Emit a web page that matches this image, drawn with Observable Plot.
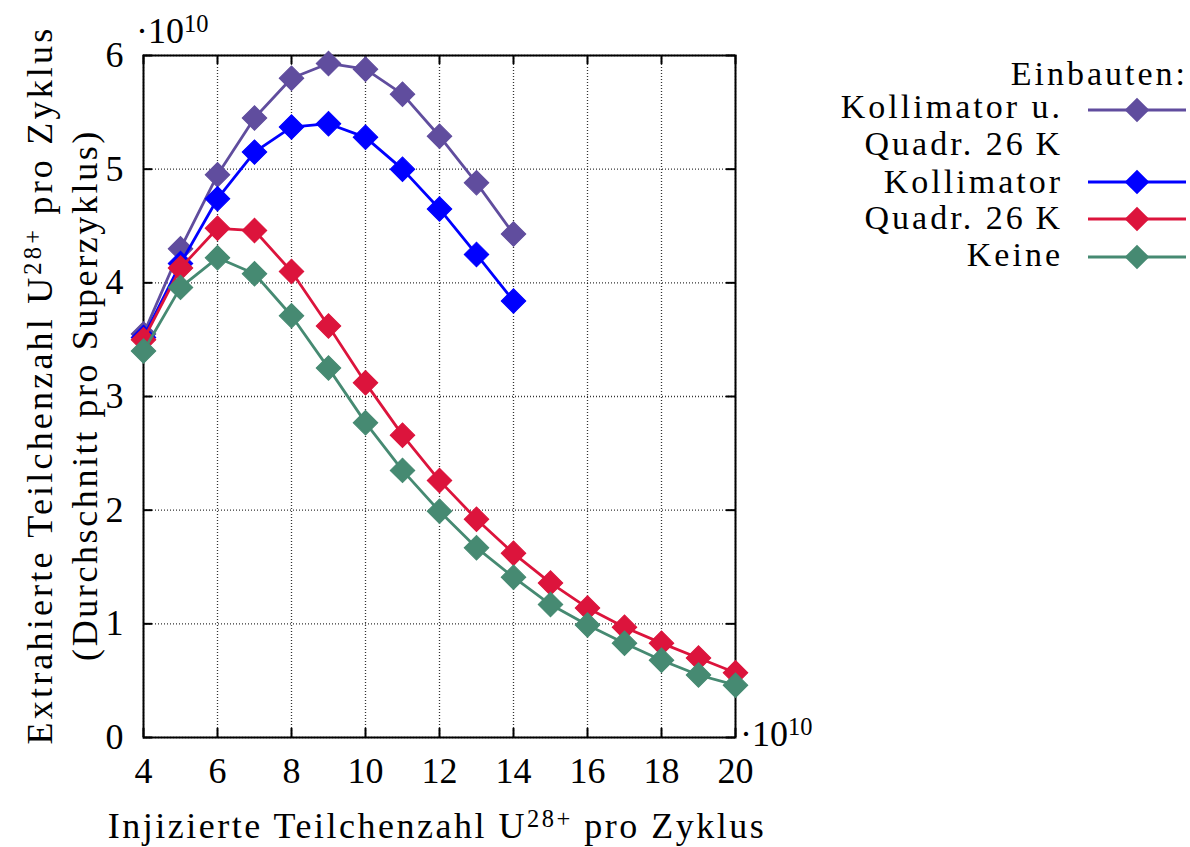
<!DOCTYPE html>
<html><head><meta charset="utf-8">
<script src="https://cdn.jsdelivr.net/npm/d3@7"></script>
<script src="https://cdn.jsdelivr.net/npm/@observablehq/plot@0.6"></script>
<style>body{margin:0;background:#fff;overflow:hidden}</style>
</head><body><div id="chart"></div>
<script>
// ---- data (units of 1e10) ----
const xShort = [4,5,6,7,8,9,10,11,12,13,14];
const xLong = [4,5,6,7,8,9,10,11,12,13,14,15,16,17,18,19,20];
const yKollQuad = [3.55,4.30,4.95,5.45,5.80,5.93,5.88,5.66,5.29,4.88,4.43];
const yKoll = [3.52,4.17,4.74,5.15,5.37,5.40,5.28,5.00,4.65,4.25,3.84];
const yQuad = [3.50,4.13,4.48,4.46,4.10,3.62,3.12,2.66,2.26,1.92,1.62,1.36,1.14,0.97,0.83,0.70,0.57];
const yKeine = [3.40,3.96,4.22,4.08,3.71,3.25,2.77,2.35,1.99,1.67,1.41,1.17,0.99,0.83,0.68,0.55,0.46];
const seriesNames = ["Kollimator u. Quadr. 26 K", "Kollimator", "Quadr. 26 K", "Keine"];
const legendLabels = [["Kollimator u.", "Quadr. 26\u2009K"], ["Kollimator"], ["Quadr. 26\u2009K"], ["Keine"]];
const seriesColors = ["#604d9e", "#0000ff", "#dc143c", "#468a72"];
const xTicks = [4,6,8,10,12,14,16,18,20];
const yTicks = [0,1,2,3,4,5,6];

const seriesX = [xShort, xShort, xLong, xLong];
const seriesY = [yKollQuad, yKoll, yQuad, yKeine];
const series = seriesNames.map((name, i) =>
  seriesX[i].map((x, j) => ({series: name, x, y: seriesY[i][j]})));

const W = 1190, H = 847;
const mL = 143, mR = 455, mT = 55, mB = 110;
const pw = W - mL - mR, ph = H - mT - mB;
const font = "'Liberation Serif', 'DejaVu Serif', serif";
const fs = 36;

const marks = [
  Plot.gridX(xTicks, {stroke: "#000", strokeOpacity: 0.8, strokeWidth: 1.3, strokeDasharray: "1,2"}),
  Plot.gridY(yTicks, {stroke: "#000", strokeOpacity: 0.8, strokeWidth: 1.3, strokeDasharray: "1,2"}),
  Plot.frame({stroke: "#000", strokeWidth: 2}),
  Plot.tickX(xTicks, {x: d => d, insetTop: ph - 9, stroke: "#000", strokeWidth: 2}),
  Plot.tickX(xTicks, {x: d => d, insetBottom: ph - 9, stroke: "#000", strokeWidth: 2}),
  Plot.tickY(yTicks, {y: d => d, insetRight: pw - 9, stroke: "#000", strokeWidth: 2}),
  Plot.tickY(yTicks, {y: d => d, insetLeft: pw - 9, stroke: "#000", strokeWidth: 2}),
  Plot.axisX({ticks: xTicks, tickFormat: d3.format("d"), tickSize: 0, tickPadding: 20, label: null, fontSize: fs}),
  Plot.axisY({ticks: yTicks, tickFormat: d3.format("d"), tickSize: 0, tickPadding: 20, label: null, fontSize: fs})
];
series.forEach((data, i) => {
  marks.push(Plot.line(data, {x: "x", y: "y", stroke: seriesColors[i], strokeWidth: 2.8}));
  marks.push(Plot.dot(data, {x: "x", y: "y", symbol: "square", rotate: 45, r: 9.8, fill: seriesColors[i], stroke: seriesColors[i], strokeWidth: 1}));
});

const plot = Plot.plot({
  width: W, height: H,
  marginLeft: mL, marginRight: mR, marginTop: mT, marginBottom: mB,
  x: {domain: [4, 20]},
  y: {domain: [0, 6]},
  style: {fontFamily: font, fontSize: fs + "px", background: "#fff", color: "#000"},
  marks
});
document.getElementById("chart").appendChild(plot);

const svg = d3.select(plot);
const g = svg.append("g").attr("font-family", font).attr("fill", "#000");

function supText(sel, before, sup, after) {
  sel.append("tspan").text(before);
  sel.append("tspan").attr("font-size", "0.68em").attr("dy", "-0.45em").text(sup);
  sel.append("tspan").attr("dy", "0.31em").text(after);
}

// Y axis label (two lines)
const yl1 = g.append("g").attr("transform", `translate(52,385) rotate(-90)`);
supText(yl1.append("text").attr("text-anchor", "middle").attr("font-size", fs).attr("letter-spacing", 3.2),
  "Extrahierte Teilchenzahl U", "28+", " pro Zyklus");
const yl2 = g.append("g").attr("transform", `translate(97,395) rotate(-90)`);
yl2.append("text").attr("text-anchor", "middle").attr("font-size", fs).attr("letter-spacing", 2.6)
  .text("(Durchschnitt pro Superzyklus)");

// X axis label
supText(g.append("text").attr("text-anchor", "middle").attr("font-size", fs).attr("letter-spacing", 2.5)
  .attr("x", mL + pw / 2 - 2).attr("y", 838), "Injizierte Teilchenzahl U", "28+", " pro Zyklus");

// exponent markers
supText(g.append("text").attr("text-anchor", "start").attr("font-size", fs).attr("x", 136).attr("y", 43), "\u00b710", "10", "");
supText(g.append("text").attr("text-anchor", "start").attr("font-size", fs).attr("x", 740).attr("y", 746), "\u00b710", "10", "");

// Legend
const lfs = 34;
const lg = g.append("g").attr("font-size", lfs).attr("letter-spacing", 3);
lg.append("text").attr("text-anchor", "end").attr("x", 1188).attr("y", 85).text("Einbauten:");
const rowY = [110, 182, 219, 257];
const rowBase = [[118, 155], [193], [229], [266]];
legendLabels.forEach((lines, i) => {
  lines.forEach((t, k) => {
    lg.append("text").attr("text-anchor", "end")
      .attr("x", 1063).attr("y", rowBase[i][k]).text(t);
  });
  lg.append("line").attr("x1", 1088).attr("x2", 1186).attr("y1", rowY[i]).attr("y2", rowY[i])
    .attr("stroke", seriesColors[i]).attr("stroke-width", 2.8);
  lg.append("rect").attr("x", -8.7).attr("y", -8.7).attr("width", 17.4).attr("height", 17.4)
    .attr("transform", `translate(1137,${rowY[i]}) rotate(45)`)
    .attr("fill", seriesColors[i]);
});
</script>
</body></html>
